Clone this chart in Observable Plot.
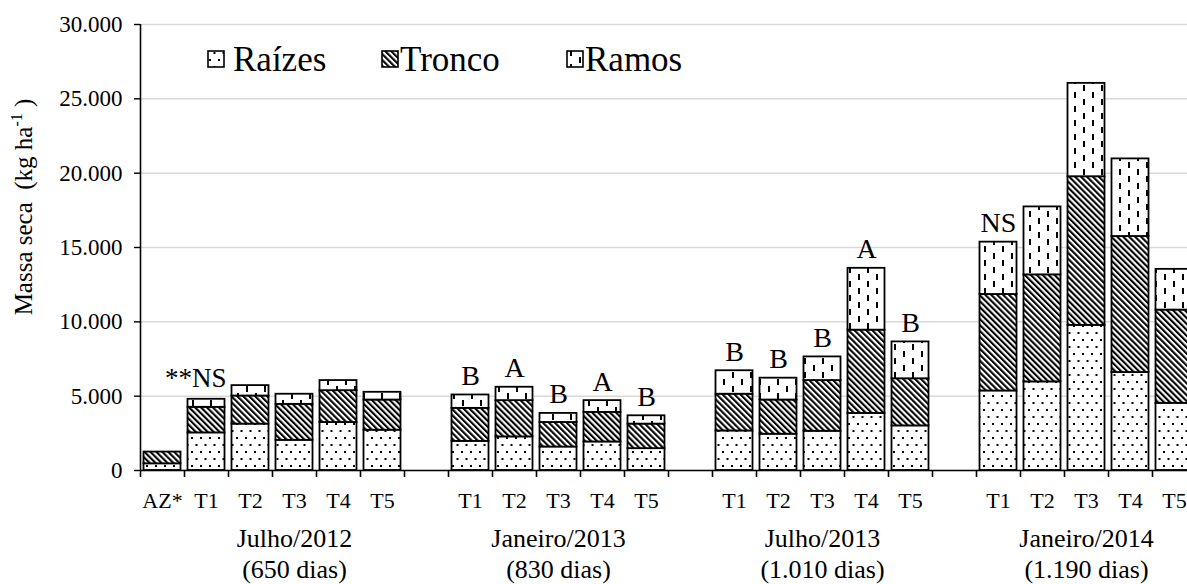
<!DOCTYPE html>
<html><head><meta charset="utf-8">
<script src="https://cdn.jsdelivr.net/npm/d3@7"></script>
<script src="https://cdn.jsdelivr.net/npm/@observablehq/plot@0.6"></script>
<style>
html,body{margin:0;padding:0;background:#fff;overflow:hidden}
#wrap{position:relative;width:1187px;height:584px;overflow:hidden;background:#fff}
#chart{width:1200px}
#legend{position:absolute;left:0;top:0;pointer-events:none}
</style></head><body>
<svg width="0" height="0" style="position:absolute">
<defs>
<pattern id="pRaizes" width="9" height="14" patternUnits="userSpaceOnUse">
<rect width="9" height="14" fill="white"/>
<rect x="2" y="3" width="2" height="2" fill="black"/>
<rect x="6.5" y="10" width="2" height="2" fill="black"/>
</pattern>
<pattern id="pTronco" width="4.2" height="4.2" patternUnits="userSpaceOnUse" patternTransform="rotate(-45)">
<rect width="4.2" height="4.2" fill="white"/>
<rect width="2.1" height="4.2" fill="black"/>
</pattern>
<pattern id="pRamos" width="18" height="14" patternUnits="userSpaceOnUse">
<rect width="18" height="14" fill="white"/>
<rect x="3" y="1" width="2" height="6" fill="black"/>
<rect x="12" y="8" width="2" height="6" fill="black"/>
</pattern>
</defs>
</svg>
<div id="wrap"><div id="chart"></div><svg id="legend" width="1187" height="100"></svg></div>
<script>
// ---- data ----
const categories = ["AZ*","T1","T2","T3","T4","T5","",
                    "T1","T2","T3","T4","T5","",
                    "T1","T2","T3","T4","T5","",
                    "T1","T2","T3","T4","T5"];
const groupOf = [0,0,0,0,0,0,null,1,1,1,1,1,null,2,2,2,2,2,null,3,3,3,3,3];
const groupNames = ["Julho/2012","Janeiro/2013","Julho/2013","Janeiro/2014"];
const groupDays = ["(650 dias)","(830 dias)","(1.010 dias)","(1.190 dias)"];
const raizes = [450,2530,3120,2030,3230,2710,null,1960,2260,1580,1920,1470,null,2660,2440,2640,3840,3000,null,5350,5960,9760,6590,4520];
const tronco = [790,1720,1890,2420,2140,2030,null,2220,2440,1650,1990,1650,null,2470,2300,3410,5600,3170,null,6490,7200,10000,9150,6270];
const ramos  = [0,540,700,680,680,520,null,900,900,610,790,560,null,1580,1470,1590,4160,2480,null,3520,4570,6280,5220,2740];
const letters = ["","**NS","","","","","","B","A","B","A","B","","B","B","B","A","B","","NS","","","",""];
const seriesNames = ["Raízes","Tronco","Ramos"];
const yTicks = [0,5000,10000,15000,20000,25000,30000];

// ---- derived ----
const seriesArr = [raizes, tronco, ramos];
const patterns = ["url(#pRaizes)","url(#pTronco)","url(#pRamos)"];
const rows = [];
const totals = [];
categories.forEach((c,i)=>{
  if(!c) return;
  let base = 0;
  seriesArr.forEach((arr,s)=>{
    const v = arr[i];
    if(v>0){ rows.push({i, s, y1:base, y2:base+v}); base+=v; }
  });
  totals.push({i, total:base, label:letters[i]});
});
const tickLabels = categories.map((c,i)=>({i,c})).filter(d=>d.c);
const groupLabels = groupNames.map((g,k)=>{
  const idx = categories.map((c,i)=>i).filter(i=>groupOf[i]===k && categories[i].startsWith("T"));
  return {x: d3.mean(idx)+0.5, name:g, days:groupDays[k]};
});
const fmt = d3.formatLocale({decimal:",",thousands:".",grouping:[3],currency:["",""]}).format(",");

const font = "'Liberation Serif', 'Times New Roman', Times, 'DejaVu Serif', serif";
const chart = Plot.plot({
  width: 1200, height: 584,
  marginLeft: 140, marginRight: 4, marginTop: 24, marginBottom: 114,
  style: {fontFamily: font, fontSize: "23px", color: "black", background: "white", maxWidth: "none"},
  x: {type: "linear", domain: [0, 24]},
  y: {domain: [0, 30000]},
  marks: [
    Plot.gridY(yTicks, {stroke: "#d9d9d9", strokeOpacity: 1, strokeWidth: 1.5}),
    ...[0,1,2].map(s => Plot.rect(rows.filter(d=>d.s===s), {
      x1: d=>d.i, x2: d=>d.i+1, y1: "y1", y2: "y2",
      fill: patterns[s], stroke: "black", strokeWidth: 1.8,
      insetLeft: 3.5, insetRight: 3.5
    })),
    Plot.ruleY([0], {stroke: "black", strokeWidth: 1.6}),
    Plot.ruleX([0], {y1: 0, y2: 30000, stroke: "black", strokeWidth: 1.6}),
    Plot.axisY({ticks: yTicks, tickFormat: d => d===0 ? "0" : fmt(d), tickSize: 6, tickPadding: 12, fontSize: 23, label: null, strokeWidth: 1.4, fontFamily: font}),
    Plot.axisX({ticks: d3.range(0, 25), tickFormat: () => "", tickSize: 7, label: null, strokeWidth: 1.6}),
    Plot.text(tickLabels, {x: d=>d.i+0.5, y: 0, text: "c", dy: 30, lineAnchor: "middle", fontSize: 22, fontFamily: font}),
    Plot.text(groupLabels, {x: "x", y: 0, text: "name", dy: 68, lineAnchor: "middle", fontSize: 26, fontFamily: font}),
    Plot.text(groupLabels, {x: "x", y: 0, text: "days", dy: 99, lineAnchor: "middle", fontSize: 26, fontFamily: font}),
    Plot.text(totals.filter(d=>d.label && d.label!=="**NS"), {x: d=>d.i+0.5, y: "total", text: "label", lineAnchor: "bottom", dy: -10, fontSize: 28, fontFamily: font}),
    Plot.text(totals.filter(d=>d.label==="**NS"), {x: d=>d.i+1, y: "total", text: "label", lineAnchor: "bottom", textAnchor: "end", dy: -12, dx: -2, fontSize: 27, fontFamily: font})
  ]
});
chart.style.maxWidth = "none";
chart.style.width = "1200px";
chart.style.height = "584px";
document.getElementById("chart").appendChild(chart);

// y axis title with superscript
const svg = d3.select(chart);
const t = svg.append("text")
  .attr("transform", "translate(32,207) rotate(-90)")
  .attr("text-anchor", "middle")
  .style("font-family", font).attr("font-size", 25).attr("fill", "black");
t.append("tspan").text("Massa seca  (kg ha");
t.append("tspan").attr("dy", -10).attr("font-size", 16).text("-1");
t.append("tspan").attr("dy", 10).text(" )");

// legend
const lg = d3.select("#legend");
const legendPos = [[208,233],[382,400],[567,585]];
seriesNames.forEach((n,s)=>{
  lg.append("rect").attr("x", legendPos[s][0]).attr("y", 51).attr("width", 16).attr("height", 16)
    .attr("fill", patterns[s]).attr("stroke", "black").attr("stroke-width", 1.6);
  lg.append("text").attr("x", legendPos[s][1]).attr("y", 71).style("font-family", font)
    .attr("font-size", 35).attr("fill", "black").text(n);
});
</script>
</body></html>
